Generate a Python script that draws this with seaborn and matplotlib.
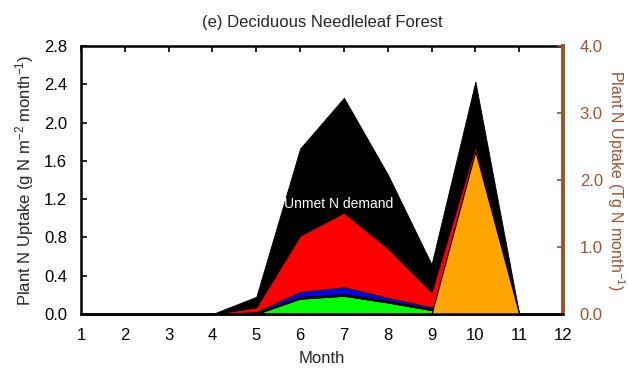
import numpy as np
import matplotlib
matplotlib.use("Agg")
import matplotlib.pyplot as plt
import seaborn as sns

months = [1, 2, 3, 4, 5, 6, 7, 8, 9, 10, 11, 12]
# cumulative tops of each stacked layer (g N m-2 month-1)
green_top = [0, 0, 0, 0, 0.00, 0.16, 0.19, 0.12, 0.04, 0.00, 0, 0]
line_top = [0, 0, 0, 0, 0.01, 0.18, 0.21, 0.14, 0.05, 0.005, 0, 0]
blue_top = [0, 0, 0, 0, 0.02, 0.23, 0.28, 0.17, 0.07, 0.01, 0, 0]
red_top = [0, 0, 0, 0, 0.07, 0.82, 1.06, 0.69, 0.23, 1.76, 0, 0]
total_top = [0, 0, 0, 0, 0.18, 1.73, 2.26, 1.46, 0.52, 2.43, 0, 0]
# right axis series (Tg N month-1)
orange_vals = [0, 0, 0, 0, 0, 0, 0, 0, 0, 2.43, 0, 0]

title = "(e) Deciduous Needleleaf Forest"
annot = "Unmet N demand"
brown = "#A0522D"

sns.set_style("white")
plt.rcParams['font.family'] = ['Liberation Sans', 'DejaVu Sans']
plt.rcParams['mathtext.fontset'] = 'custom'
plt.rcParams['mathtext.rm'] = 'Liberation Sans'
plt.rcParams['mathtext.it'] = 'Liberation Sans'
plt.rcParams['mathtext.default'] = 'regular'

fig = plt.figure(figsize=(6.28, 3.69), dpi=100)
ax = fig.add_axes([0.129, 0.149, 0.7675, 0.726])

x = np.array(months)
zero = np.zeros(len(months))
layers = [(zero, green_top, "#00FF00"), (green_top, line_top, "black"),
          (line_top, blue_top, "#0000FF"), (blue_top, red_top, "#FF0000"),
          (red_top, total_top, "black")]
for lo, hi, c in layers:
    ax.fill_between(x, lo, hi, facecolor=c, edgecolor="black", linewidth=0.6, zorder=2)

ax.text(6.87, 1.15, annot, color="white", fontsize=10, ha="center", va="center", zorder=5)

ax.set_xlim(1, 12)
ax.set_ylim(0, 2.8)
ax.set_xticks(months)
ax.set_yticks(np.arange(0, 2.81, 0.4))
ax.set_yticklabels([f"{v:.1f}" for v in np.arange(0, 2.81, 0.4)])
ax.tick_params(axis="both", direction="in", length=4, width=1.2, labelsize=12, colors="black",
               top=True, right=False)
ax.tick_params(axis="x", pad=10)
ax.tick_params(axis="y", pad=10)
ax.set_xlabel("Month", fontsize=12, labelpad=6)
ax.set_ylabel("Plant N Uptake (g N m$^{-2}$ month$^{-1}$)", fontsize=12, labelpad=6)
ax.set_title(title, fontsize=12, pad=14)
for s in ["left", "bottom", "top"]:
    ax.spines[s].set_linewidth(1.8)
    ax.spines[s].set_color("black")
ax.spines["right"].set_visible(False)

ax2 = ax.twinx()
ax2.fill_between(x, 0, orange_vals, facecolor="#FFA500", edgecolor="black", linewidth=0.8, zorder=3)
ax2.set_ylim(0, 4.0)
ax2.set_yticks([0, 1, 2, 3, 4])
ax2.set_yticklabels(["0.0", "1.0", "2.0", "3.0", "4.0"])
ax2.tick_params(axis="y", direction="in", length=4, width=1.2, labelsize=12, colors=brown, pad=12)
ax2.spines["right"].set_color(brown)
ax2.spines["right"].set_linewidth(2.8)
for s in ["left", "bottom", "top"]:
    ax2.spines[s].set_visible(False)
ax2.set_ylabel("Plant N Uptake (Tg N month$^{-1}$)", fontsize=11.5, color=brown, rotation=270,
               va="center", ha="center")
ax2.yaxis.set_label_coords(1.11, 0.5)
ax2.plot(x, zero, color="black", linewidth=1.8, zorder=4, clip_on=False)

fig.savefig("out.png", dpi=100)
